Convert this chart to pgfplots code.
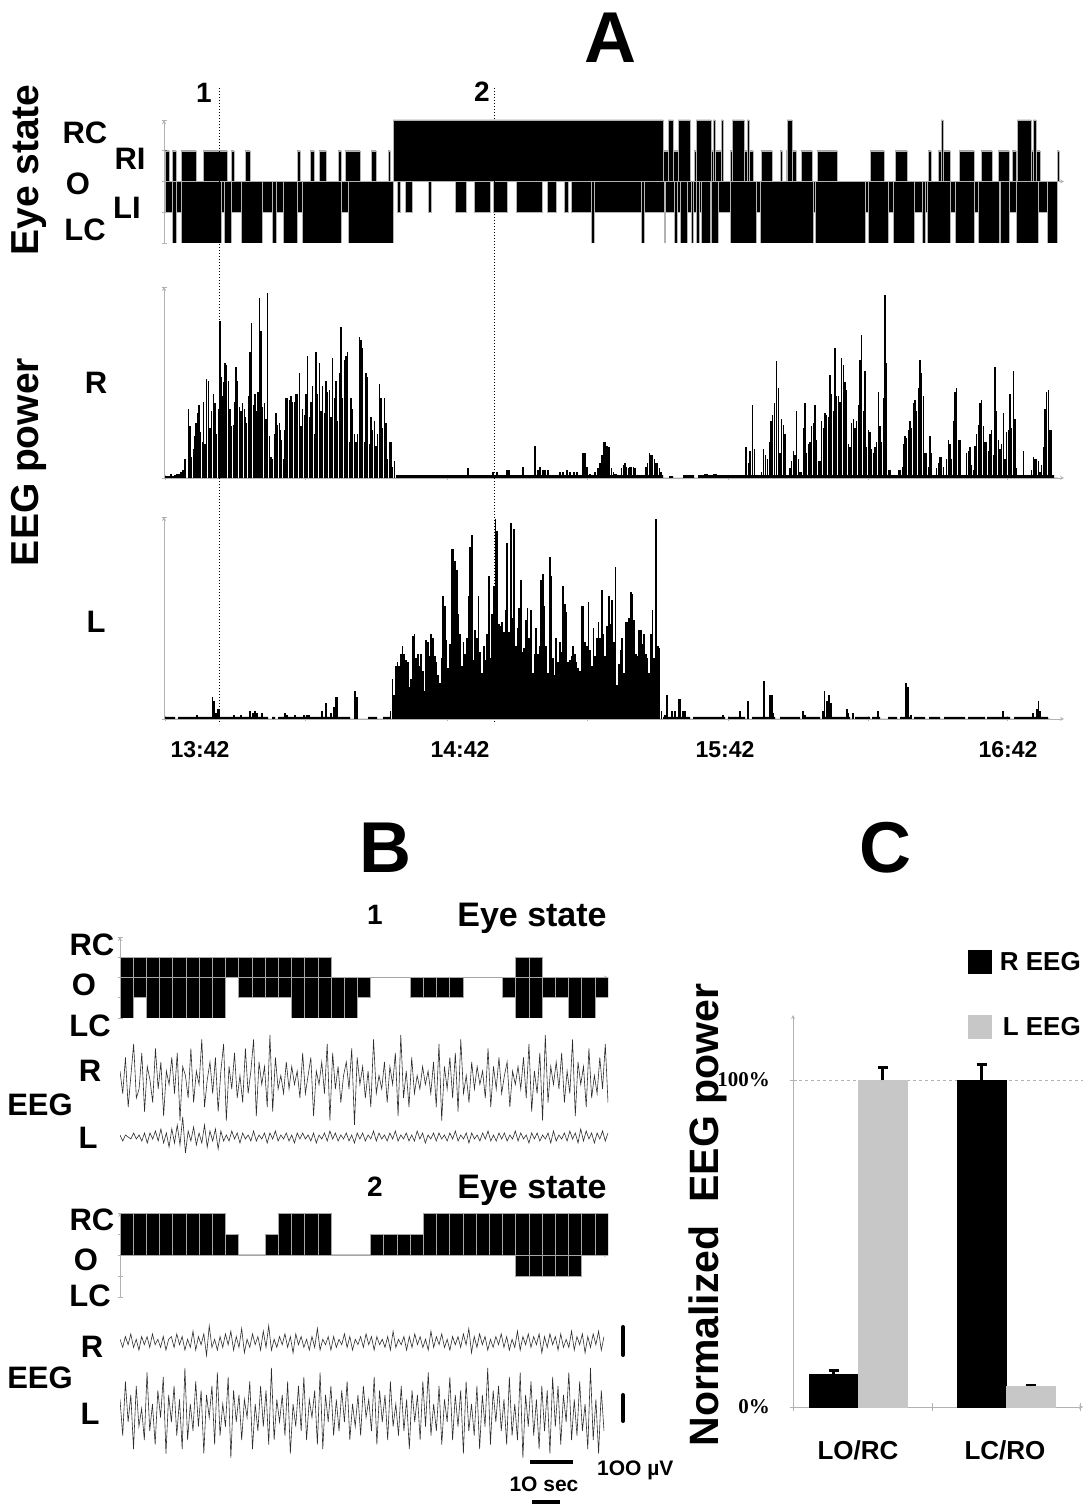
\documentclass[border=0pt]{standalone}
\usepackage{fontspec}
\setmainfont{Liberation Sans}
\newfontfamily\serif{Liberation Serif}
\usepackage{pgfplots}
\pgfplotsset{compat=1.18}
\newcommand\fs[1]{\fontsize{#1}{#1}\selectfont\bfseries}
\pgfplotsset{every axis/.append style={scale only axis, anchor=south west,
  axis line style={gray!60, line width=0.8pt, -}, tick style={gray!60, line width=0.8pt},
  tick align=outside, major tick length=5pt, xticklabels={}, yticklabels={}}}
\begin{document}
\begin{tikzpicture}
\path[use as bounding box] (0,0) rectangle (1083pt,1505pt);
% ---------- A: eye state ----------
\begin{axis}[at={(164pt,1262pt)}, width=900pt, height=123pt, xmin=164, xmax=1064, ymin=-2, ymax=2,
  axis x line=middle, axis y line=left, xtick=\empty, ytick={-2,-1,0,1,2}]
\addplot[ybar interval, fill=black, draw=gray!60, line width=0.3pt] coordinates {
(165,1) (169,0) (172,1) (176,0) (181,1) (196,0) (203,1) (227,0) (231,1) (234,0) (245,1) (250,0)
(297,1) (300,0) (310,1) (314,0) (319,1) (326,0) (338,1) (341,0) (345,1) (360,0) (371,1) (376,0)
(388,1) (390,0) (393,2) (663,1) (668,2) (673,1) (678,2) (690,0) (694,1) (696,2) (711,1) (713,2)
(715,1) (721,2) (723,0) (730,1) (732,2) (744,1) (747,2) (749,1) (753,0) (761,1) (772,0) (780,1)
(782,0) (786,1) (787,2) (792,1) (796,0) (801,1) (812,0) (817,1) (837,0) (870,1) (884,0) (895,1)
(907,0) (928,1) (931,0) (938,1) (941,2) (943,1) (950,0) (959,1) (974,0) (981,1) (992,0) (998,1)
(1009,0) (1012,1) (1016,0) (1017,2) (1031,1) (1033,2) (1036,1) (1040,0) (1057,1) (1059,0)};
\addplot[ybar interval, fill=black, draw=gray!60, line width=0.3pt] coordinates {
(165,-1) (172,-2) (176,-1) (181,-2) (221,-1) (224,-2) (231,-1) (241,-2) (262,-1) (272,-2) (276,-1)
(283,-2) (297,-1) (302,-2) (341,-1) (348,-2) (393,0) (397,-1) (400,0) (405,-1) (412,0) (428,-1)
(431,0) (455,-1) (466,0) (474,-1) (490,0) (493,-1) (507,0) (516,-1) (542,0) (547,-1) (556,0)
(564,-1) (568,0) (571,-1) (591,-2) (594,-1) (641,-2) (644,-1) (664,-2) (665,-1) (674,-2) (677,-1)
(680,-2) (687,-1) (691,-2) (693,-1) (696,-2) (699,-1) (701,-2) (710,-1) (711,-2) (718,-1) (730,-2)
(756,-1) (760,-2) (813,-1) (815,-2) (865,-1) (868,-2) (888,-1) (893,-2) (914,-1) (922,-2) (925,-1)
(927,-2) (950,-1) (955,-2) (974,-1) (978,-2) (999,-1) (1000,-2) (1009,-1) (1016,-2) (1038,-1)
(1047,-2) (1057,0) (1059,0)};
\end{axis}
% ---------- A: R EEG power ----------
\begin{axis}[at={(164pt,1027pt)}, width=900pt, height=191pt, xmin=164, xmax=1064, ymin=0, ymax=100,
  axis x line=bottom, axis y line=left, xtick={165,305,447,587,728,868,1007}, ytick={0,100}]
\addplot[ybar interval, fill=black, draw=none] coordinates {(165,1) (183,0) (396,1.5) (663,0) (669,1) (673,0) (683,1.5) (694,0) (698,1.5) (1054,0) (1058,0)};
\addplot[ycomb, black, line width=1.5pt, mark=none] coordinates {
(167,1) (169,1) (171,2) (173,1) (175,1.5) (177,2) (179,2) (181,3) (183,4) (185,10) (188.3,36) (190,27)
(191.7,11) (193.3,15) (195,22) (196,29) (197.3,34) (199,38) (200.7,24) (202.3,19) (203.3,40) (205,18)
(206.7,52) (208.3,51) (210,26) (211.7,35) (213.3,44) (215,39) (216.7,23) (218.3,36) (220,82) (221.3,53)
(222.7,43) (224,50) (225,60) (226.7,59) (228.3,51) (230,36) (231.7,27) (233.3,28) (234.7,40) (236,58)
(237.7,51) (239.3,37) (241,35) (242.7,39) (244.3,36) (245.5,32) (246.7,29) (248.3,43) (250,66) (251.7,81)
(253.3,38) (255,44) (256.7,35) (258,45) (259.3,94) (261,77) (262.7,37) (264.3,39) (266,31) (267.7,97)
(269.3,22) (271,11) (272.7,10) (274.3,23) (276,34) (277.7,28) (279.3,29) (280.5,25) (281.7,20) (283.3,10)
(284.7,25) (286,42) (287.7,42) (289.3,41) (291,43) (292.7,40) (294.3,40) (296,44) (297.7,44) (299.3,55)
(301,27) (302.7,36) (304.3,33) (306,44) (307.7,64) (309.3,32) (311,40) (312.7,48) (314.3,23) (316,66)
(317.7,44) (319.3,60) (321,35) (322.7,48) (324.3,34) (326,51) (327.7,45) (329.3,46) (331,32) (332.7,63)
(334.3,42) (336,51) (337.7,30) (339.3,55) (341,79) (342.7,42) (344.3,62) (346,64) (347.7,66) (349.3,19)
(351,42) (352.7,36) (354.3,23) (356,19) (357.7,23) (359.3,74) (361,72) (362.7,68) (364.3,19) (366,55)
(367.7,53) (369.3,18) (371,32) (372.7,25) (374.3,30) (376,17) (377.7,23) (379.3,49) (381,42) (382.7,26)
(384.3,42) (386,29) (387.7,10) (389.3,19) (391,19) (392.7,6) (394.3,9)
(468,5) (493,3) (497,3) (507,4) (509,4) (523,6) (535,17) (538,4) (540,6) (543,4) (545,4) (548,4) (560,3)
(563,3) (567,4) (570,3) (574,3) (577,3) (583,13) (585,13) (587,6) (590,2) (595,3) (598,5) (600,8) (602,12)
(604,19) (605.5,19) (607,17) (609,16) (611.7,5) (613.3,3) (615,2) (616.7,2) (621.7,5) (623.3,7) (625,8)
(626.7,6) (628.3,5) (630,6) (631.7,6) (633.3,6) (635,5) (646,6) (647.7,8) (649.3,13) (651,12) (652.7,12)
(654.3,10) (656,8) (657.7,8) (659.3,5) (661,3) (705,2) (707,2) (714,2) (716,2)
(746,16) (748.3,8) (750,14) (752.7,38) (754.3,15) (761.7,3) (763.3,15) (765.7,12) (767.3,10) (769.3,19)
(771,30) (772.7,33) (774.3,39) (776.7,61) (778.3,47) (780,13) (781.7,31) (783.3,28) (785,23) (790,5)
(791.7,9) (793.3,14) (795,12) (796.7,35) (798.3,10) (800,3) (801.7,3) (803.3,26) (805,39) (806.7,13)
(808.3,18) (810,19) (811.7,27) (813.3,29) (815,38) (816.7,20) (818.3,9) (820,9) (821.7,30) (823.3,26)
(825,34) (826.7,33) (828.3,32) (830,54) (831.7,44) (833.3,35) (835,68) (836.7,43) (838.3,43) (840,40)
(841.7,63) (843.3,59) (845,50) (846.7,46) (848.3,18) (850,16) (851.7,29) (853.3,31) (855,26) (856.7,30)
(858.3,38) (860,62) (861.7,75) (863.3,35) (865,56) (866.7,16) (868.3,25) (870,24) (871.7,15) (873.3,13)
(875,16) (876.7,19) (878.3,45) (880,27) (881.7,19) (883.3,42) (885,96) (886.7,60) (888.3,4) (890,4)
(898.3,4) (900,4) (902.7,6) (904,18) (905,22) (906.7,21) (908.3,25) (910,30) (911.7,26) (913.3,39)
(915,41) (916.7,35) (918.3,47) (920,62) (921.7,55) (923.3,43) (925,13) (926.7,13) (928.3,6) (930,22)
(931.7,13) (936.7,5) (938.3,8) (940,11) (941.7,11) (943.3,6) (946.7,10) (948.3,20) (950,18) (951.7,10)
(953.3,30) (955,45) (956.7,47) (958.3,20) (960,20) (966.7,13) (968.3,14) (970,16) (971.7,7) (973.3,4)
(975,17) (976.7,23) (978.3,28) (980,39) (981.7,41) (983.3,27) (985,19) (986.7,19) (988.3,14) (990,23)
(991.7,25) (993.3,12) (995,58) (996.7,35) (998.3,20) (1000,15) (1001.7,18) (1003.3,34) (1005,10)
(1006.7,24) (1008.3,25) (1010,44) (1011.7,26) (1013.3,56) (1015,31) (1016.7,5) (1023.3,14) (1031.7,4)
(1033.3,11) (1035,10) (1036.7,10) (1038.3,9) (1040,3) (1041.7,7) (1043.3,16) (1045,36) (1046.7,45)
(1048.3,46) (1050,25) (1051.7,25)};
\end{axis}
% ---------- A: L EEG power ----------
\begin{axis}[at={(164pt,786pt)}, width=900pt, height=202pt, xmin=164, xmax=1064, ymin=0, ymax=100,
  axis x line=bottom, axis y line=left, xtick={165,305,447,587,728,868,1007}, ytick={0,100}]
\addplot[ybar interval, fill=black, draw=none] coordinates {(165,1) (175,0) (178,1) (212,0) (220,1) (268,0)
(272,1) (275,0) (278,1) (350,0) (368,1) (377,0) (383,1) (390,0) (663,1) (690,0) (693,1) (725,0) (728,1)
(745,0) (752,1) (775,0) (780,1) (800,0) (805,1) (820,0) (822,1) (850,0) (855,1) (870,0) (872,1) (880,0)
(888,1) (897,0) (900,1) (910,0) (914,1) (925,0) (929,1) (940,0) (944,1) (965,0) (968,1) (985,0) (987,1)
(1010,0) (1014,1) (1048,0) (1050,0)};
\addplot[ycomb, black, line width=1.5pt, mark=none] coordinates {
(197,2) (212.5,11) (214,9) (216,3) (217.5,5) (219,5) (234,2) (241,2) (250,4) (253,3) (255,4) (257,3)
(262,3) (285,3) (287,2) (295,2) (304,2) (307,2) (309,2) (322,4) (326,8) (331,3) (334,6) (336,11)
(337.5,11) (355,14) (357,11) (390.5,4)
(392.6,20) (394,12) (396,26) (397.6,28) (399,26) (401,32) (402.7,36) (404,32) (406,29) (408,28)
(409.5,16) (411,20) (413,41) (414.5,42) (416,30) (418,32) (419.6,26) (421,32) (423,24) (424.7,14)
(426,39) (428,38) (429.7,31) (431,42) (433,40) (435,31) (436.5,28) (438,22) (440,18) (441.6,30)
(443,61) (445,56) (446.6,39) (448,25) (450,37) (451.7,84) (453,84) (455,78) (456.8,74) (458,52)
(460,42) (462,26) (463.5,38) (465,32) (467,40) (468.6,61) (470,85) (472,91) (473.6,29) (475,44)
(477,40) (478.7,61) (480,33) (482,23) (484,36) (485,29) (487,42) (489,71) (490.5,30) (492,52)
(494,66) (495.6,99) (497,93) (499,47) (500.7,46) (502,48) (504,43) (505.7,54) (507,87) (509,43)
(511,97) (512.5,50) (514,94) (516,36) (517.6,45) (519,55) (521,69) (522.6,33) (524,35) (526,49)
(527.7,55) (529,40) (531,54) (533,23) (534.5,32) (536,45) (538,32) (539.5,36) (541,69) (543,72)
(544.6,56) (546,36) (548,23) (550,80) (551,71) (553,30) (555,22) (556,40) (558,28) (560,38)
(561.5,33) (563,66) (565,57) (566.5,53) (568,28) (570,29) (571.6,31) (573,36) (575,32) (576.7,28)
(578,25) (580,24) (582,56) (583.5,56) (585,38) (587,36) (588.5,58) (590,34) (592,26) (593.6,45)
(595,31) (597,40) (598.6,48) (600,40) (602,64) (603.7,42) (605,31) (607,46) (609,61) (610.5,47)
(612,59) (614,38) (615.5,75) (617,17) (619,27) (620.6,34) (622,40) (624,23) (625.7,48) (627,48)
(629,50) (631,63) (632.4,62) (634,49) (636,32) (637.5,31) (639,44) (641,44) (642.6,37) (644,42)
(646,32) (647.6,30) (649,23) (651,42) (652.7,54) (654,30) (656,99) (658,36) (659.5,35) (661.5,4)
(665,2) (667,12) (672,4) (675,4) (679,10) (680.5,10) (683,4) (685,4) (723,2) (740,4) (748,9) (764,19)
(770,12) (772,12) (773.5,3) (803,4) (805,2) (823,4) (824.5,14) (827,9) (829,12) (831,8) (847,5)
(848.5,3) (853,3) (878,4) (906,18) (908,16) (911,2) (1003,4) (1033,3) (1037,5) (1038.5,9) (1040,4)};
\end{axis}
% ---------- B1 eye state ----------
\begin{axis}[at={(120pt,487pt)}, width=488pt, height=81pt, xmin=0, xmax=37, ymin=-2, ymax=2,
  axis x line=middle, axis y line=left, xtick=\empty, ytick={-2,-1,0,1,2}]
\addplot[ybar interval, fill=black, draw=gray!70, line width=0.6pt] table[x expr=\coordindex, y index=0, header=false, row sep=\\]
{1\\1\\1\\1\\1\\1\\1\\1\\1\\1\\1\\1\\1\\1\\1\\1\\0\\0\\0\\0\\0\\0\\0\\0\\0\\0\\0\\0\\0\\0\\1\\1\\0\\0\\0\\0\\0\\0\\};
\addplot[ybar interval, fill=black, draw=gray!70, line width=0.6pt] table[x expr=\coordindex, y index=0, header=false, row sep=\\]
{-2\\-1\\-2\\-2\\-2\\-2\\-2\\-2\\0\\-1\\-1\\-1\\-1\\-2\\-2\\-2\\-2\\-2\\-1\\0\\0\\0\\-1\\-1\\-1\\-1\\0\\0\\0\\-1\\-2\\-2\\-1\\-1\\-2\\-2\\-1\\0\\};
\end{axis}
% B1 R trace
\begin{axis}[at={(120pt,380pt)}, width=488pt, height=90pt, xmin=0, xmax=179, ymin=-10, ymax=10, hide axis]
\addplot[gray!35!black, line width=0.6pt, mark=none] table[x expr=\coordindex, y index=0, header=false, row sep=\\]
{2\\-3\\5\\-6\\1\\8\\-4\\-2\\6\\-7\\3\\0\\-5\\7\\-2\\4\\-8\\2\\-1\\5\\
-3\\6\\-9\\3\\1\\-4\\7\\-5\\2\\-1\\9\\-6\\0\\4\\-3\\5\\-7\\2\\8\\-9\\
3\\-2\\6\\-4\\1\\-5\\7\\-3\\2\\9\\-8\\4\\-1\\3\\-6\\10\\-7\\5\\-2\\1\\
-3\\4\\-2\\3\\-1\\2\\-4\\6\\-3\\1\\5\\-8\\2\\-1\\4\\-3\\8\\-9\\6\\-2\\
3\\-5\\1\\4\\-2\\7\\-10\\5\\-1\\3\\-4\\2\\-6\\9\\-3\\1\\-2\\4\\-5\\3\\
-1\\6\\-8\\10\\-4\\2\\-6\\5\\-3\\1\\-2\\3\\-1\\2\\-3\\4\\-6\\8\\-9\\3\\
-2\\5\\-4\\6\\-7\\9\\-3\\1\\-5\\4\\-2\\3\\-1\\2\\-4\\7\\-6\\3\\-2\\5\\
-3\\1\\4\\-6\\2\\-1\\3\\-2\\5\\-4\\8\\-7\\2\\-3\\6\\-9\\10\\-5\\3\\-1\\
4\\-2\\6\\-5\\2\\-3\\9\\-8\\4\\-1\\3\\-6\\7\\-4\\1\\-3\\5\\-2\\8\\-5\\};
\end{axis}
% B1 L trace
\begin{axis}[at={(120pt,348pt)}, width=488pt, height=40pt, xmin=0, xmax=179, ymin=-10, ymax=10, hide axis]
\addplot[gray!35!black, line width=0.6pt, mark=none] table[x expr=\coordindex, y index=0, header=false, row sep=\\]
{1\\-2\\1\\0\\-1\\2\\-1\\1\\-2\\2\\-3\\2\\-1\\3\\-2\\4\\-3\\2\\-5\\4\\
-3\\6\\-4\\10\\-8\\3\\-2\\5\\-4\\2\\-3\\6\\-5\\3\\-2\\4\\-6\\3\\-2\\1\\
-2\\3\\-1\\2\\-3\\2\\-1\\1\\-2\\3\\-2\\1\\-1\\2\\-3\\2\\-1\\3\\-2\\1\\
-1\\2\\-2\\1\\-3\\2\\-1\\2\\-1\\1\\-2\\2\\-3\\1\\-1\\2\\-2\\3\\-1\\2\\
-2\\1\\-1\\2\\-2\\1\\-3\\2\\-1\\2\\-2\\1\\-1\\3\\-2\\2\\-1\\1\\-2\\2\\
-1\\3\\-2\\1\\-1\\2\\-2\\1\\-2\\3\\-1\\2\\-3\\1\\-1\\2\\-2\\2\\-1\\1\\
-2\\2\\-1\\3\\-2\\1\\-1\\2\\-3\\2\\-1\\1\\-2\\2\\-1\\3\\-2\\1\\-2\\2\\
-1\\2\\-2\\1\\-1\\3\\-2\\2\\-1\\1\\-3\\2\\-1\\2\\-2\\1\\-1\\2\\-3\\3\\
-2\\1\\-1\\2\\-2\\3\\-1\\2\\-3\\4\\-2\\3\\-1\\2\\-3\\2\\-1\\3\\-2\\2\\};
\end{axis}
% ---------- B2 eye state ----------
\begin{axis}[at={(120pt,208pt)}, width=488pt, height=84pt, xmin=0, xmax=37, ymin=-2, ymax=2,
  axis x line=middle, axis y line=left, xtick=\empty, ytick={-2,-1,0,1,2}]
\addplot[ybar interval, fill=black, draw=gray!70, line width=0.6pt] table[x expr=\coordindex, y index=0, header=false, row sep=\\]
{2\\2\\2\\2\\2\\2\\2\\2\\1\\0\\0\\1\\2\\2\\2\\2\\0\\0\\0\\1\\1\\1\\1\\2\\2\\2\\2\\2\\2\\2\\2\\2\\2\\2\\2\\2\\2\\0\\};
\addplot[ybar interval, fill=black, draw=gray!70, line width=0.6pt] table[x expr=\coordindex, y index=0, header=false, row sep=\\]
{0\\0\\0\\0\\0\\0\\0\\0\\0\\0\\0\\0\\0\\0\\0\\0\\0\\0\\0\\0\\0\\0\\0\\0\\0\\0\\0\\0\\0\\0\\-1\\-1\\-1\\-1\\-1\\0\\0\\0\\};
\end{axis}
% B2 R trace
\begin{axis}[at={(120pt,136pt)}, width=484pt, height=54pt, xmin=0, xmax=179, ymin=-10, ymax=10, hide axis]
\addplot[gray!35!black, line width=0.6pt, mark=none] table[x expr=\coordindex, y index=0, header=false, row sep=\\]
{1\\-2\\2\\-1\\3\\-2\\1\\-3\\2\\-1\\2\\-2\\3\\-1\\1\\-2\\2\\-3\\1\\2\\
-2\\3\\-1\\2\\-3\\1\\-2\\4\\-3\\2\\-1\\3\\-5\\6\\-2\\1\\-3\\2\\-2\\3\\
-1\\4\\-3\\2\\-2\\5\\-4\\1\\-2\\3\\-1\\2\\-3\\4\\-2\\6\\-3\\1\\-2\\2\\
-1\\3\\-2\\2\\-4\\3\\-1\\2\\-2\\1\\-3\\2\\-2\\5\\-3\\1\\-1\\2\\-3\\2\\
-2\\1\\-1\\3\\-2\\2\\-3\\1\\-1\\2\\-2\\3\\-1\\2\\-3\\2\\-1\\1\\-2\\2\\
-3\\4\\-2\\1\\-1\\2\\-3\\2\\-2\\3\\-1\\2\\-2\\1\\-3\\4\\-2\\2\\-1\\3\\
-2\\1\\-3\\2\\-1\\2\\-2\\3\\-1\\5\\-4\\2\\-2\\3\\-1\\2\\-3\\1\\-2\\2\\
-1\\3\\-2\\2\\-3\\1\\-2\\4\\-3\\2\\-1\\3\\-2\\2\\-1\\3\\-4\\2\\-2\\3\\
-1\\2\\-3\\3\\-2\\1\\-2\\4\\-3\\2\\-1\\3\\-4\\2\\-2\\3\\-1\\4\\-3\\2\\};
\end{axis}
% B2 L trace
\begin{axis}[at={(120pt,47pt)}, width=484pt, height=90pt, xmin=0, xmax=179, ymin=-10, ymax=10, hide axis]
\addplot[gray!35!black, line width=0.6pt, mark=none] table[x expr=\coordindex, y index=0, header=false, row sep=\\]
{3\\-5\\7\\-2\\4\\-8\\6\\-3\\1\\-6\\9\\-4\\2\\-7\\5\\-1\\8\\-9\\4\\-2\\
6\\-5\\3\\-8\\10\\-6\\2\\-4\\7\\-3\\5\\-9\\4\\-1\\6\\-7\\9\\-5\\2\\-3\\
8\\-10\\5\\-2\\4\\-6\\3\\-1\\7\\-8\\2\\-4\\6\\-3\\5\\-7\\10\\-6\\3\\-2\\
4\\-5\\7\\-9\\2\\-3\\6\\-4\\8\\-6\\3\\-1\\5\\-7\\9\\-8\\4\\-2\\6\\-5\\
3\\-4\\5\\-2\\7\\-6\\2\\-3\\4\\-5\\6\\-1\\3\\-4\\8\\-7\\5\\-2\\4\\-6\\
7\\-3\\2\\-5\\6\\-4\\3\\-8\\5\\-2\\4\\-6\\7\\-3\\9\\-5\\2\\-4\\6\\-7\\
3\\-2\\8\\-6\\4\\-3\\5\\-9\\7\\-4\\2\\-5\\6\\-8\\4\\-3\\10\\-7\\5\\-2\\
6\\-4\\3\\-7\\8\\-5\\2\\-6\\9\\-10\\4\\-3\\7\\-5\\3\\-8\\6\\-4\\5\\-9\\
8\\-3\\6\\-7\\4\\-2\\9\\-6\\3\\-5\\7\\-4\\2\\-8\\10\\-6\\3\\-9\\5\\-4\\};
\end{axis}
% ---------- C ----------
\begin{axis}[at={(793pt,98pt)}, width=290pt, height=392pt, xmin=793, xmax=1083, ymin=0, ymax=120,
  axis x line=bottom, axis y line=left, xtick={793,932,1080}, ytick={0,100}, major tick length=7pt]
\draw[gray!60, dashed, line width=0.8pt] (axis cs:793,100) -- (axis cs:1083,100);
\addplot[ybar, bar width=49, bar shift=0pt, fill=black, draw=black,
  error bars/.cd, y dir=plus, y explicit, error bar style={line width=2.5pt, black},
  error mark options={rotate=90, mark size=5pt, line width=2.5pt, black}]
  coordinates {(833.5,10) +- (0,1.2) (981.5,100) +- (0,4.8)};
\addplot[ybar, bar width=49, bar shift=0pt, fill=black!22, draw=black!22,
  error bars/.cd, y dir=plus, y explicit, error bar style={line width=2.5pt, black},
  error mark options={rotate=90, mark size=5pt, line width=2.5pt, black}]
  coordinates {(882.5,100) +- (0,4) (1030.5,6.3) +- (0,0.5)};
\end{axis}
% ---------- text and decorations ----------
\begin{scope}[shift={(0,1505pt)}, yscale=-1, x=1pt, y=1pt, every node/.style={inner sep=0pt}]
\draw[dotted, line width=1pt] (219,88) -- (219,724);
\draw[dotted, line width=1pt] (494,88) -- (494,724);
\node at (610,38) {\fs{72}A};
\node at (204,93) {\fs{28}1};
\node at (482,92) {\fs{28}2};
\node[rotate=90] at (29,170) {\fs{39}Eye state};
\node[rotate=90] at (29,462) {\fs{39}EEG power};
\node at (85,133) {\fs{31}RC};
\node at (78,184) {\fs{31}O};
\node at (85,230) {\fs{31}LC};
\node at (130,159) {\fs{31}RI};
\node at (127,208) {\fs{31}LI};
\node at (96,383) {\fs{31}R};
\node at (96,622) {\fs{31}L};
\node[anchor=base] at (200,758) {\fs{23}13:42};
\node[anchor=base] at (460,758) {\fs{23}14:42};
\node[anchor=base] at (725,758) {\fs{23}15:42};
\node[anchor=base] at (1008,758) {\fs{23}16:42};
\node at (385,848) {\fs{72}B};
\node at (885,848) {\fs{72}C};
\node at (375,915) {\fs{28}1};
\node at (532,918) {\fs{34}Eye state};
\node at (92,945) {\fs{31}RC};
\node at (84,985) {\fs{31}O};
\node at (90,1026) {\fs{31}LC};
\node at (90,1071) {\fs{31}R};
\node at (40,1105) {\fs{31}EEG};
\node at (88,1138) {\fs{31}L};
\node at (375,1187) {\fs{28}2};
\node at (532,1190) {\fs{34}Eye state};
\node at (92,1220) {\fs{31}RC};
\node at (86,1260) {\fs{31}O};
\node at (90,1296) {\fs{31}LC};
\node at (92,1347) {\fs{31}R};
\node at (40,1378) {\fs{31}EEG};
\node at (90,1414) {\fs{31}L};
\draw[line width=4pt, line cap=round] (623,1327) -- (623,1355);
\draw[line width=4pt, line cap=round] (623,1395) -- (623,1421);
\draw[line width=4pt] (530,1462) -- (573,1462);
\draw[line width=4pt] (532,1502) -- (560,1502);
\node at (544,1484) {\fs{21}1O sec};
\node[anchor=west] at (597,1470) {\fs{21}1OO µV};
\node[rotate=90] at (708,1215) {\fs{41}Normalized\ \ EEG power};
\node[anchor=east] at (770,1080) {\serif\fs{21}100\%};
\node[anchor=east] at (770,1407) {\serif\fs{21}0\%};
\node at (858,1450) {\fs{26}LO/RC};
\node at (1005,1450) {\fs{26}LC/RO};
\fill[black] (968,950) rectangle (992,974);
\fill[black!22] (968,1015) rectangle (992,1039);
\node[anchor=east] at (1081,962) {\fs{26}R EEG};
\node[anchor=east] at (1081,1027) {\fs{26}L EEG};
\end{scope}
\end{tikzpicture}
\end{document}
